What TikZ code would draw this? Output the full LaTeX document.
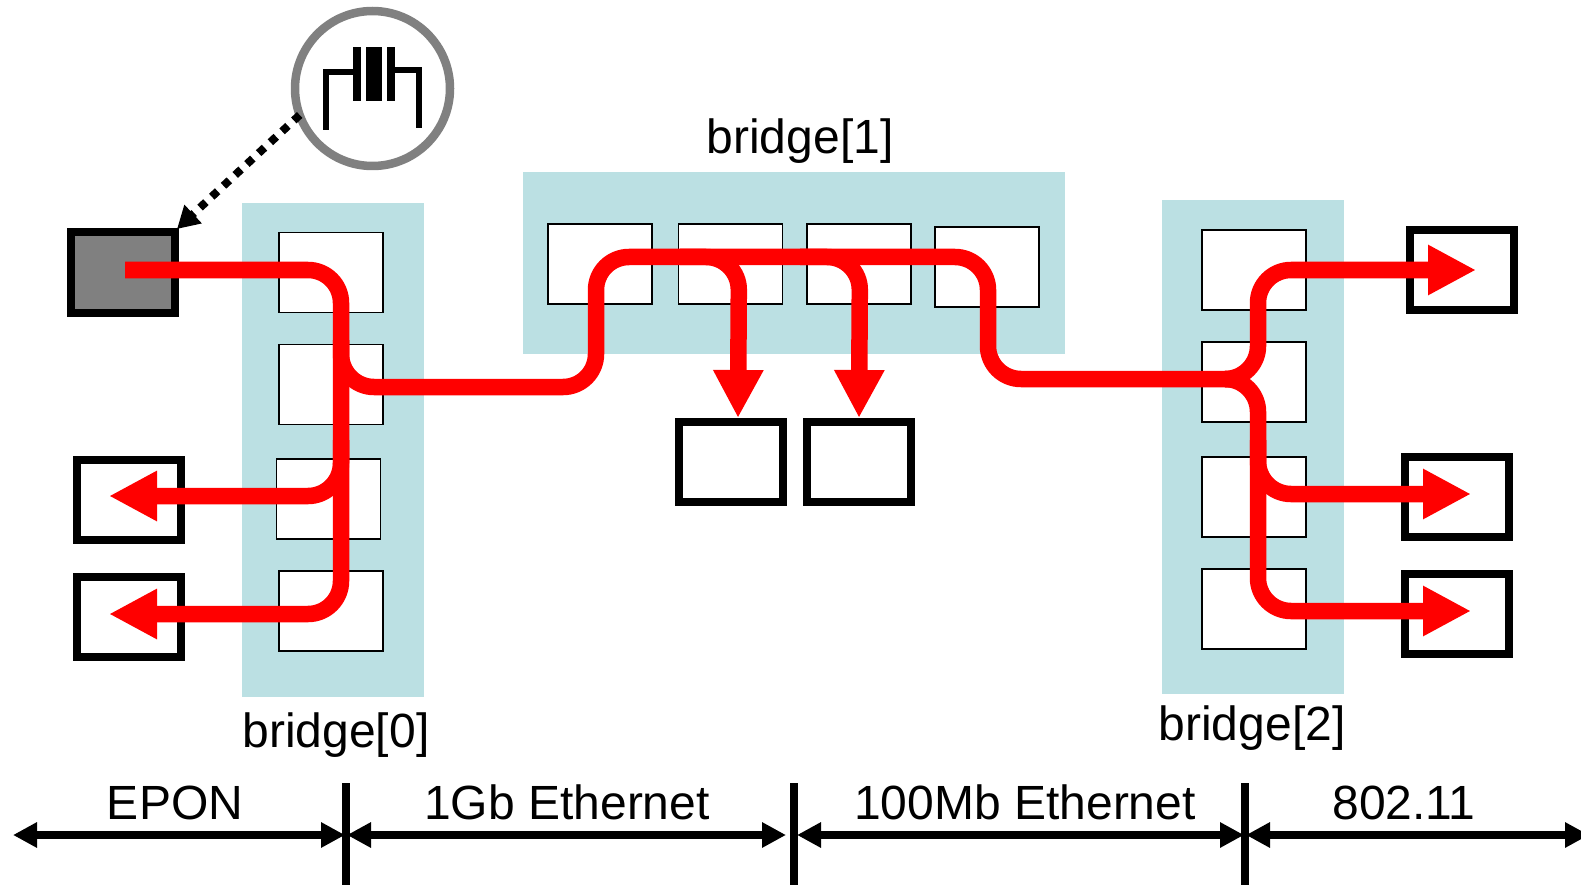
\documentclass[tikz,border=0pt]{standalone}
\usepackage{fontspec}
\setmainfont{Liberation Sans}
\usetikzlibrary{arrows.meta}
\definecolor{bridgeblue}{HTML}{BBE0E3}
\tikzset{
  bridgebox/.style={fill=bridgeblue,draw=none,inner sep=0pt,outer sep=0pt},
  portbox/.style={draw=black,fill=white,line width=1.5pt,minimum width=104pt,minimum height=80pt,inner sep=0pt,outer sep=0pt},
  endbox/.style={draw=black,fill=white,line width=8pt,minimum width=104pt,minimum height=80pt,inner sep=0pt,outer sep=0pt},
  srcbox/.style={endbox,fill=black!50},
  label/.style={font=\fontsize{48}{48}\selectfont,anchor=base,inner sep=0pt},
  flow/.style={draw=red,line width=16.5pt,rounded corners=33pt},
  flowarrow/.style={flow,-{Triangle[length=48pt,width=47pt,fill=red,color=red]}},
  span/.style={draw=black,line width=8pt,{Triangle[length=24pt,width=24pt]}-{Triangle[length=24pt,width=24pt]}},
  bar/.style={draw=black,line width=7.5pt},
  lead/.style={draw=black,line width=6pt},
  plate/.style={fill=black,draw=none},
}
\begin{document}
\begin{tikzpicture}[x=1pt,y=-1pt]
\useasboundingbox (0,0) rectangle (1581,885);
% bridges
\node[bridgebox,minimum width=182pt,minimum height=494pt] (b0) at (333,450) {};
\node[bridgebox,minimum width=542pt,minimum height=182pt] (b1) at (794,263) {};
\node[bridgebox,minimum width=182pt,minimum height=494pt] (b2) at (1253,447) {};
% ports
\node[portbox] (p00) at (331,272.5) {};
\node[portbox] (p01) at (331,384.5) {};
\node[portbox] (p02) at (328.5,499) {};
\node[portbox] (p03) at (331,611) {};
\node[portbox] (p10) at (600,264) {};
\node[portbox] (p11) at (730.5,264) {};
\node[portbox] (p12) at (859,264) {};
\node[portbox] (p13) at (987,267) {};
\node[portbox] (p20) at (1254,270) {};
\node[portbox] (p21) at (1254,382) {};
\node[portbox] (p22) at (1254,497) {};
\node[portbox] (p23) at (1254,609) {};
% end stations
\node[srcbox] (src) at (123,272.5) {};
\node[endbox] (l1) at (128.5,499.5) {};
\node[endbox] (l2) at (128.5,617) {};
\node[endbox] (m1) at (731,461.5) {};
\node[endbox] (m2) at (859,461.5) {};
\node[endbox] (r1) at (1462,270) {};
\node[endbox] (r2) at (1457,497) {};
\node[endbox] (r3) at (1457,614) {};
% clock circle and symbol
\node[circle,draw=black!50,fill=white,line width=8.5pt,minimum size=155pt,inner sep=0pt,outer sep=0pt] (clk) at (372.5,88.5) {};
\fill[plate] (353,47) rectangle (361,101);
\fill[plate] (366,47) rectangle (382,101);
\fill[plate] (387,47) rectangle (395,101);
\draw[lead] (326,130) -- (326,72) -- (353,72);
\draw[lead] (395,70) -- (419,70) -- (419,128);
% dotted connector
\coordinate (srctip) at (177,229);
\draw[draw=black,line width=8pt,dash pattern=on 8pt off 8pt,-{Triangle[length=22pt,width=24pt]}] (clk.200) -- (srctip);
% timeline
\coordinate (t0) at (13,835);
\coordinate (t1a) at (345,835);
\coordinate (t1b) at (347,835);
\coordinate (t2a) at (786,835);
\coordinate (t2b) at (797,835);
\coordinate (t3a) at (1244,835);
\coordinate (t3b) at (1246,835);
\coordinate (t4) at (1589,835);
\coordinate (v1a) at (346,783); \coordinate (v1b) at (346,885);
\coordinate (v2a) at (794,783); \coordinate (v2b) at (794,885);
\coordinate (v3a) at (1245,783); \coordinate (v3b) at (1245,885);
\draw[span] (t0) -- (t1a);
\draw[span] (t1b) -- (t2a);
\draw[span] (t2b) -- (t3a);
\draw[span] (t3b) -- (t4);
\draw[bar] (v1a) -- (v1b);
\draw[bar] (v2a) -- (v2b);
\draw[bar] (v3a) -- (v3b);
% labels
\node[label] (lb0) at (336,747) {bridge[0]};
\node[label] (lb1) at (800,154) {bridge[1]};
\node[label] (lb2) at (1252,740) {bridge[2]};
\node[label] (le0) at (175,819) {EPON};
\node[label] (le1) at (567,819) {1Gb Ethernet};
\node[label] (le2) at (1025,819) {100Mb Ethernet};
\node[label] (le3) at (1404,819) {802.11};
% red flows
\coordinate (a0) at (125,270);
\coordinate (a1) at (341,270);
\coordinate (a2) at (341,614);
\coordinate (a3) at (109,614);
\coordinate (a4) at (341,440);
\coordinate (a5) at (341,496);
\coordinate (a6) at (109,496);
\coordinate (a7) at (341,340);
\coordinate (a8) at (341,387);
\coordinate (c0) at (596,387);
\coordinate (c1) at (596,257);
\coordinate (c2) at (988,257);
\coordinate (c3) at (988,379);
\coordinate (c4) at (1232,379);
\coordinate (d0) at (680,257);
\coordinate (d1) at (739,257);
\coordinate (d2) at (738,418);
\coordinate (e0) at (800,257);
\coordinate (e1) at (860,257);
\coordinate (e2) at (859,418);
\coordinate (f0) at (1258,379);
\coordinate (f1) at (1258,270);
\coordinate (f2) at (1476,270);
\coordinate (g1) at (1471,611);
\coordinate (g2) at (1258,611);
\coordinate (h0) at (1258,440);
\coordinate (h1) at (1258,494);
\coordinate (h2) at (1471,494);
\draw[flowarrow] (a0) -- (a1) -- (a2) -- (a3);
\draw[flowarrow] (a4) -- (a5) -- (a6);
\draw[flow] (a7) -- (a8) -- (c0) -- (c1) -- (c2) -- (c3) -- (c4);
\draw[flowarrow] (d0) -- (d1) -- (d2);
\draw[flowarrow] (e0) -- (e1) -- (e2);
\draw[flowarrow] (c4) -- (f0) -- (f1) -- (f2);
\draw[flowarrow] (c4) -- (f0) -- (g2) -- (g1);
\draw[flowarrow] (h0) -- (h1) -- (h2);
\end{tikzpicture}
\end{document}
